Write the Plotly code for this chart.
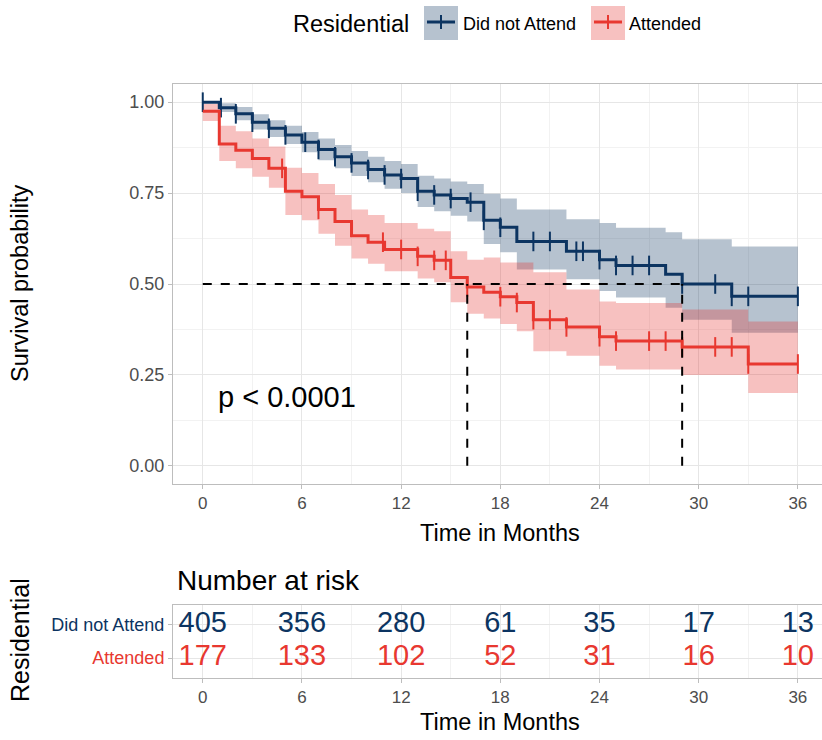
import numpy as np
import plotly.graph_objects as go

# ---- Kaplan-Meier estimates (step times in months) ----
blue_t = [0, 1, 2, 3, 4, 5, 6, 7, 8, 9, 10, 11, 12, 13, 14, 15, 16, 17, 18, 19, 22, 24, 25, 28, 29, 32]
blue_s = [1.00, 0.985, 0.968, 0.945, 0.928, 0.91, 0.89, 0.87, 0.85, 0.833, 0.815, 0.80, 0.79,
          0.755, 0.745, 0.735, 0.725, 0.675, 0.656, 0.617, 0.59, 0.567, 0.551, 0.527, 0.50, 0.466]
blue_hi = [1.00, 0.997, 0.987, 0.967, 0.95, 0.935, 0.918, 0.90, 0.882, 0.866, 0.85, 0.838, 0.83,
           0.798, 0.79, 0.782, 0.775, 0.748, 0.735, 0.705, 0.678, 0.668, 0.655, 0.642, 0.623, 0.603]
blue_lo = [1.00, 0.973, 0.95, 0.925, 0.904, 0.885, 0.862, 0.84, 0.818, 0.797, 0.78, 0.762, 0.75,
           0.712, 0.70, 0.688, 0.672, 0.61, 0.587, 0.54, 0.513, 0.481, 0.463, 0.435, 0.402, 0.366]
blue_cens = [0, 1.1, 2, 3, 4, 5, 6.2, 7, 8, 9, 10, 11, 12, 13, 14, 15, 16.2, 17, 18, 20, 21,
             22.6, 23, 24, 25, 26, 27, 29, 31, 32, 33, 36]

red_t = [0, 1, 2, 3, 4, 5, 6, 7, 8, 9, 10, 11, 13, 14, 15, 16, 17, 18, 19, 20, 22, 24, 25, 29, 33]
red_s = [0.975, 0.885, 0.868, 0.845, 0.818, 0.755, 0.74, 0.705, 0.672, 0.633, 0.615, 0.595,
         0.576, 0.565, 0.518, 0.492, 0.477, 0.465, 0.449, 0.402, 0.382, 0.355, 0.343, 0.327, 0.28]
red_hi = [0.995, 0.935, 0.92, 0.90, 0.878, 0.82, 0.805, 0.775, 0.745, 0.705, 0.69, 0.668,
          0.652, 0.645, 0.59, 0.567, 0.573, 0.559, 0.559, 0.532, 0.485, 0.452, 0.448, 0.43, 0.397]
red_lo = [0.948, 0.838, 0.818, 0.795, 0.765, 0.69, 0.675, 0.638, 0.605, 0.57, 0.556, 0.535,
          0.515, 0.505, 0.45, 0.418, 0.405, 0.39, 0.37, 0.315, 0.303, 0.275, 0.265, 0.25, 0.20]
red_cens = [4.8, 7, 10.9, 12, 13, 14, 14.7, 16, 18, 19, 20, 21, 22, 24, 25, 27, 28, 29, 31, 32, 33, 36]

t_end = 36
medians = {"Attended": 16.0, "Did not Attend": 29.0}
p_label = "p < 0.0001"

# ---- number at risk ----
risk_times = [0, 6, 12, 18, 24, 30, 36]
risk_blue = [405, 356, 280, 61, 35, 17, 13]
risk_red = [177, 133, 102, 52, 31, 16, 10]

BLUE = "rgb(12,52,97)"
BLUE_FILL = "rgba(12,52,97,0.3)"
RED = "rgb(232,56,48)"
RED_FILL = "rgba(230,50,45,0.3)"
FONT = "Liberation Sans, Arial, sans-serif"
TICK = 17
TITLE = 23.5

W, H = 822, 740


def px(x):
    return x / W


def py(y):
    return 1 - y / H


def step_at(ts, ss, t):
    i = np.searchsorted(np.asarray(ts), t, side="right") - 1
    return ss[max(i, 0)]


fig = go.Figure()


def add_band(ts, hi, lo, fillcol):
    xs = list(ts) + [t_end]
    fig.add_trace(go.Scatter(x=xs, y=list(hi) + [hi[-1]], mode="lines", line=dict(width=0, shape="hv"),
                             showlegend=False, hoverinfo="skip"))
    fig.add_trace(go.Scatter(x=xs, y=list(lo) + [lo[-1]], mode="lines", line=dict(width=0, shape="hv"),
                             fill="tonexty", fillcolor=fillcol, showlegend=False, hoverinfo="skip"))


add_band(blue_t, blue_hi, blue_lo, BLUE_FILL)
add_band(red_t, red_hi, red_lo, RED_FILL)

for ts, ss, cens, col, name in [(blue_t, blue_s, blue_cens, BLUE, "Did not Attend"),
                                (red_t, red_s, red_cens, RED, "Attended")]:
    fig.add_trace(go.Scatter(x=list(ts) + [t_end], y=list(ss) + [ss[-1]], mode="lines",
                             line=dict(color=col, width=3, shape="hv"), name=name, showlegend=False))
    fig.add_trace(go.Scatter(x=cens, y=[step_at(ts, ss, c) for c in cens], mode="markers",
                             marker=dict(symbol="line-ns", size=14, line=dict(color=col, width=2)),
                             showlegend=False, hoverinfo="skip"))

# median survival guides
m_max = max(medians.values())
fig.add_trace(go.Scatter(x=[0, m_max], y=[0.5, 0.5], mode="lines",
                         line=dict(color="black", width=2, dash="dash"), showlegend=False))
for m in medians.values():
    fig.add_trace(go.Scatter(x=[m, m], y=[0, 0.5], mode="lines",
                             line=dict(color="black", width=2, dash="dash"), showlegend=False))

# number-at-risk table
fig.add_trace(go.Scatter(x=risk_times, y=[2] * len(risk_times), mode="text",
                         text=[str(v) for v in risk_blue], textfont=dict(color=BLUE, size=29, family=FONT),
                         xaxis="x2", yaxis="y2", showlegend=False))
fig.add_trace(go.Scatter(x=risk_times, y=[1] * len(risk_times), mode="text",
                         text=[str(v) for v in risk_red], textfont=dict(color=RED, size=29, family=FONT),
                         xaxis="x2", yaxis="y2", showlegend=False))

x_range = [-1.8, 37.46]
axis_common = dict(showline=True, linecolor="#BDBDBD", linewidth=1, mirror=True, ticks="outside",
                   ticklen=4, tickcolor="#BDBDBD", gridcolor="#E6E6E6", gridwidth=1, zeroline=False,
                   tickfont=dict(family=FONT, size=TICK, color="#4D4D4D"))
x_minor = dict(tickvals=[3, 9, 15, 21, 27, 33], showgrid=True, gridcolor="#F2F2F2", ticks="")

fig.update_layout(
    width=W, height=H, margin=dict(l=0, r=0, t=0, b=0),
    paper_bgcolor="white", plot_bgcolor="white", showlegend=False,
    font=dict(family=FONT),
    xaxis=dict(domain=[px(173), 1.0], range=x_range, tickvals=risk_times, minor=x_minor,
               anchor="y", **axis_common),
    yaxis=dict(domain=[py(484), py(84)], range=[-0.05, 1.05], tickvals=[0, 0.25, 0.5, 0.75, 1.0],
               ticktext=["0.00", "0.25", "0.50", "0.75", "1.00"],
               minor=dict(tickvals=[0.125, 0.375, 0.625, 0.875], showgrid=True, gridcolor="#F2F2F2", ticks=""),
               anchor="x", **{**axis_common, "tickfont": dict(family=FONT, size=18, color="#4D4D4D")}),
    xaxis2=dict(domain=[px(173), 1.0], range=x_range, tickvals=risk_times, minor=x_minor,
                anchor="y2", **axis_common),
    yaxis2=dict(domain=[py(678), py(605)], range=[0.4, 2.6], tickvals=[1, 2],
                ticktext=[f"<span style='color:{RED}'>Attended</span>",
                          f"<span style='color:{BLUE}'>Did not Attend</span>"],
                anchor="x2", **{**axis_common, "tickfont": dict(family=FONT, size=18)}),
)


def label(x, y, text, size, xanchor="center", angle=0, xref="paper", yref="paper"):
    if xref == "paper":
        x = px(x)
    if yref == "paper":
        y = py(y)
    return dict(x=x, y=y, xref=xref, yref=yref, text=text, showarrow=False, textangle=angle,
                xanchor=xanchor, yanchor="middle", font=dict(size=size, color="black", family=FONT))


ann = [
    label(0.8, 0.19, p_label, 29, xanchor="left", xref="x", yref="y"),
    label(20, 284, "Survival probability", TITLE, angle=-90),
    label(500, 533, "Time in Months", TITLE),
    label(500, 722, "Time in Months", TITLE),
    label(175, 580, "Number at risk", 28, xanchor="left"),
    label(20, 640, "Residential", 25, angle=-90),
    # legend drawn at the top
    label(411, 24, "Residential", TITLE, xanchor="right"),
    label(461, 24, "Did not Attend", 18, xanchor="left"),
    label(627, 24, "Attended", 18, xanchor="left"),
]

shapes = []
for x0, col, fillc in [(424, BLUE, BLUE_FILL), (591, RED, RED_FILL)]:
    shapes.append(dict(type="rect", xref="paper", yref="paper", x0=px(x0), x1=px(x0 + 34),
                       y0=py(40), y1=py(6), fillcolor=fillc, line=dict(width=0)))
    shapes.append(dict(type="line", xref="paper", yref="paper", x0=px(x0 + 3), x1=px(x0 + 31),
                       y0=py(22), y1=py(22), line=dict(color=col, width=3)))
    shapes.append(dict(type="line", xref="paper", yref="paper", x0=px(x0 + 17), x1=px(x0 + 17),
                       y0=py(15), y1=py(29), line=dict(color=col, width=2)))

fig.update_layout(annotations=ann, shapes=shapes)
fig.write_html("out.html")
